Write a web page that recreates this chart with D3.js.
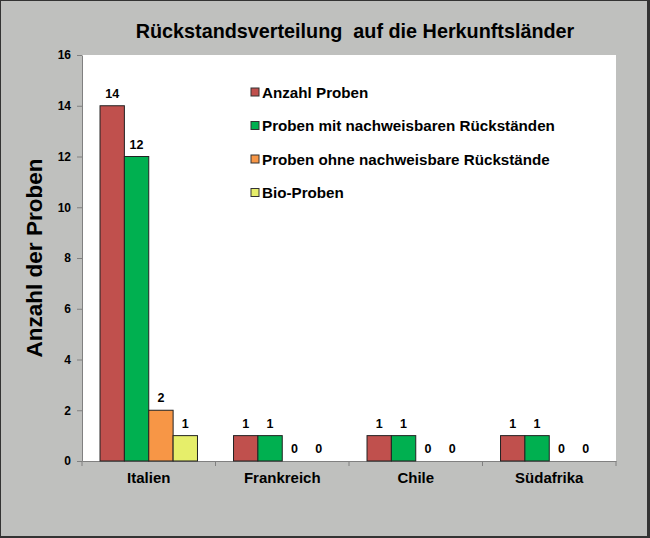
<!DOCTYPE html>
<html>
<head>
<meta charset="utf-8">
<script src="https://cdn.jsdelivr.net/npm/d3@7"></script>
<style>
  body { margin: 0; padding: 0; background: #fff; }
  svg text { font-family: "Liberation Sans", Arial, sans-serif; font-weight: bold; }
</style>
</head>
<body>
<div id="vis"></div>
<script>
// Frame and plot area
const FRAME_WIDTH = 650;
const FRAME_HEIGHT = 538;
const MARGINS = {left: 82, right: 34, top: 55, bottom: 77};
const VIS_WIDTH = FRAME_WIDTH - MARGINS.left - MARGINS.right;
const VIS_HEIGHT = FRAME_HEIGHT - MARGINS.top - MARGINS.bottom;

// Data
const countries = ["Italien", "Frankreich", "Chile", "Südafrika"];
const seriesNames = ["Anzahl Proben", "Proben mit nachweisbaren Rückständen",
                     "Proben ohne nachweisbare Rückstände", "Bio-Proben"];
const anzahl = [14, 1, 1, 1];
const mitRueck = [12, 1, 1, 1];
const ohneRueck = [2, 0, 0, 0];
const bio = [1, 0, 0, 0];
const yTicks = [0, 2, 4, 6, 8, 10, 12, 14, 16];
const colors = ["#c0504d", "#00b050", "#f79646", "#e6ee6a"];

const seriesValues = [anzahl, mitRueck, ohneRueck, bio];

const svg = d3.select("#vis")
  .append("svg")
    .attr("width", FRAME_WIDTH)
    .attr("height", FRAME_HEIGHT);

// Background and border
svg.append("rect")
  .attr("x", 0).attr("y", 0)
  .attr("width", FRAME_WIDTH).attr("height", FRAME_HEIGHT)
  .attr("fill", "#333");
svg.append("rect")
  .attr("x", 1).attr("y", 1)
  .attr("width", FRAME_WIDTH - 4).attr("height", FRAME_HEIGHT - 3)
  .attr("fill", "#bfc0be");

// Plot area
svg.append("rect")
  .attr("x", MARGINS.left).attr("y", MARGINS.top)
  .attr("width", VIS_WIDTH).attr("height", VIS_HEIGHT)
  .attr("fill", "#ffffff");

// Scales
const X_SCALE = d3.scaleBand()
  .domain(countries)
  .range([0, VIS_WIDTH]);

const GROUP_PAD = 0.27;
const X_INNER = d3.scaleBand()
  .domain(d3.range(seriesNames.length))
  .range([X_SCALE.bandwidth() * GROUP_PAD / 2, X_SCALE.bandwidth() * (1 - GROUP_PAD / 2)]);

const Y_SCALE = d3.scaleLinear()
  .domain([0, 16])
  .range([VIS_HEIGHT, 0]);

// Y axis
const yAxis = svg.append("g")
  .attr("transform", "translate(" + MARGINS.left + "," + MARGINS.top + ")")
  .call(d3.axisLeft(Y_SCALE).tickValues(yTicks).tickSize(5).tickSizeOuter(0).tickPadding(6));
yAxis.selectAll("path, line").attr("stroke", "#808080");
yAxis.selectAll("text").attr("font-size", "12px").attr("fill", "#000");

// X axis
const xAxis = svg.append("g")
  .attr("transform", "translate(" + MARGINS.left + "," + (MARGINS.top + VIS_HEIGHT) + ")")
  .call(d3.axisBottom(X_SCALE).tickSize(0).tickPadding(11));
xAxis.select("path").attr("stroke", "#808080");
xAxis.selectAll("text").attr("font-size", "15px").attr("fill", "#000");
// category boundary ticks
xAxis.selectAll(".bound")
  .data(d3.range(countries.length + 1))
  .enter()
  .append("line")
    .attr("x1", (i) => i * X_SCALE.step())
    .attr("x2", (i) => i * X_SCALE.step())
    .attr("y1", 0).attr("y2", 5)
    .attr("stroke", "#808080");

// Bars
const plot = svg.append("g")
  .attr("transform", "translate(" + MARGINS.left + "," + MARGINS.top + ")");

seriesValues.forEach((vals, s) => {
  const g = plot.append("g");
  g.selectAll("rect")
    .data(countries)
    .enter()
    .append("rect")
      .attr("x", (d) => X_SCALE(d) + X_INNER(s))
      .attr("y", (d, i) => Y_SCALE(vals[i]))
      .attr("width", X_INNER.bandwidth())
      .attr("height", (d, i) => VIS_HEIGHT - Y_SCALE(vals[i]))
      .attr("fill", colors[s])
      .attr("stroke", "#222")
      .attr("stroke-width", 1)
      .style("display", (d, i) => vals[i] === 0 ? "none" : null);
  g.selectAll("text")
    .data(countries)
    .enter()
    .append("text")
      .attr("x", (d) => X_SCALE(d) + X_INNER(s) + X_INNER.bandwidth() / 2)
      .attr("y", (d, i) => Y_SCALE(vals[i]) - 8)
      .attr("text-anchor", "middle")
      .attr("font-size", "12.5px")
      .text((d, i) => vals[i]);
});

// Legend
const legend = svg.append("g");
seriesNames.forEach((name, i) => {
  const y = 92 + i * 33.5;
  legend.append("rect")
    .attr("x", 251).attr("y", y - 4)
    .attr("width", 8).attr("height", 8)
    .attr("fill", colors[i])
    .attr("stroke", "#333");
  legend.append("text")
    .attr("x", 262).attr("y", y + 5.5)
    .attr("font-size", "15.2px")
    .text(name);
});

// Title
svg.append("text")
  .attr("x", 355).attr("y", 38)
  .attr("text-anchor", "middle")
  .attr("font-size", "19.8px")
  .text("Rückstandsverteilung  auf die Herkunftsländer")
  .style("white-space", "pre");

// Y axis label
svg.append("text")
  .attr("transform", "translate(42," + (MARGINS.top + VIS_HEIGHT / 2) + ") rotate(-90)")
  .attr("text-anchor", "middle")
  .attr("font-size", "22.5px")
  .text("Anzahl der Proben");
</script>
</body>
</html>
